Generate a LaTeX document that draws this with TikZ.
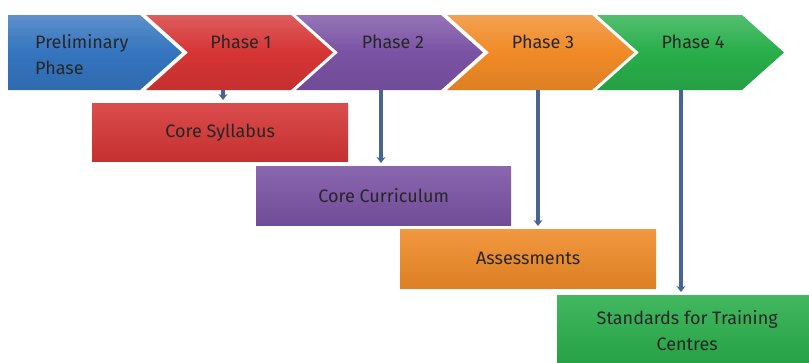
\documentclass[tikz,border=0pt]{standalone}
\usepackage{fontspec}
\setmainfont{Fira Sans}
\usetikzlibrary{positioning,arrows.meta}
\definecolor{phblue}{RGB}{52,116,190}
\definecolor{phred}{RGB}{214,52,52}
\definecolor{phpurple}{RGB}{122,82,164}
\definecolor{phorange}{RGB}{240,138,38}
\definecolor{phgreen}{RGB}{40,174,74}
\definecolor{linkblue}{RGB}{72,100,146}
\begin{document}
\begin{tikzpicture}[x=1pt,y=-1pt,>={Stealth[length=6pt,width=9pt]},
  lbl/.style={inner sep=0pt,text=black!85,font=\fontsize{18}{26}\selectfont},
  box/.style={lbl,anchor=north west,align=center},
  link/.style={->,line width=3.5pt,draw=linkblue,shorten >=3pt}]
\useasboundingbox (0,0) rectangle (809,362);
% phase arrows
\shade[top color=phblue!80!white,bottom color=phblue!92!black,middle color=phblue]
  (8,15)--(140,15)--(182,52.5)--(140,90)--(8,90)--cycle;
\foreach \x/\c in {146/phred,296/phpurple,447/phorange,597/phgreen}
\shade[top color=\c!80!white,bottom color=\c!92!black,middle color=\c]
  (\x,15)--++(145,0)--++(42,37.5)--++(-42,37.5)--++(-145,0)--++(42,-37.5)--cycle;
\node[lbl,anchor=west,align=left] (t0) at (35,55) {Preliminary\\Phase};
\node[lbl] (t1) at (241,42) {Phase 1};
\node[lbl] (t2) at (393,42) {Phase 2};
\node[lbl] (t3) at (543,42) {Phase 3};
\node[lbl] (t4) at (693,42) {Phase 4};
% outcome boxes
\node[box,minimum width=256pt,minimum height=58pt,
  top color=phred!88!white,bottom color=phred!92!black] (syl) at (92,103) {Core Syllabus};
\node[box,minimum width=255pt,minimum height=59pt,
  top color=phpurple!88!white,bottom color=phpurple!92!black] (cur) at (256,166) {Core Curriculum};
\node[box,minimum width=256pt,minimum height=59pt,
  top color=phorange!88!white,bottom color=phorange!92!black] (ass) at (400,229) {Assessments};
\node[box,minimum width=260pt,minimum height=70pt,
  top color=phgreen!88!white,bottom color=phgreen!92!black] (std) at (557,295) {Standards for Training\\Centres};
% links from the phases
\coordinate (p1) at (223,90);
\coordinate (p2) at (381,90);
\coordinate (p3) at (538,90);
\coordinate (p4) at (681,90);
\draw[link] (p1) -- (p1 |- syl.north);
\draw[link] (p2) -- (p2 |- cur.north);
\draw[link] (p3) -- (p3 |- ass.north);
\draw[link] (p4) -- (p4 |- std.north);
\end{tikzpicture}
\end{document}
